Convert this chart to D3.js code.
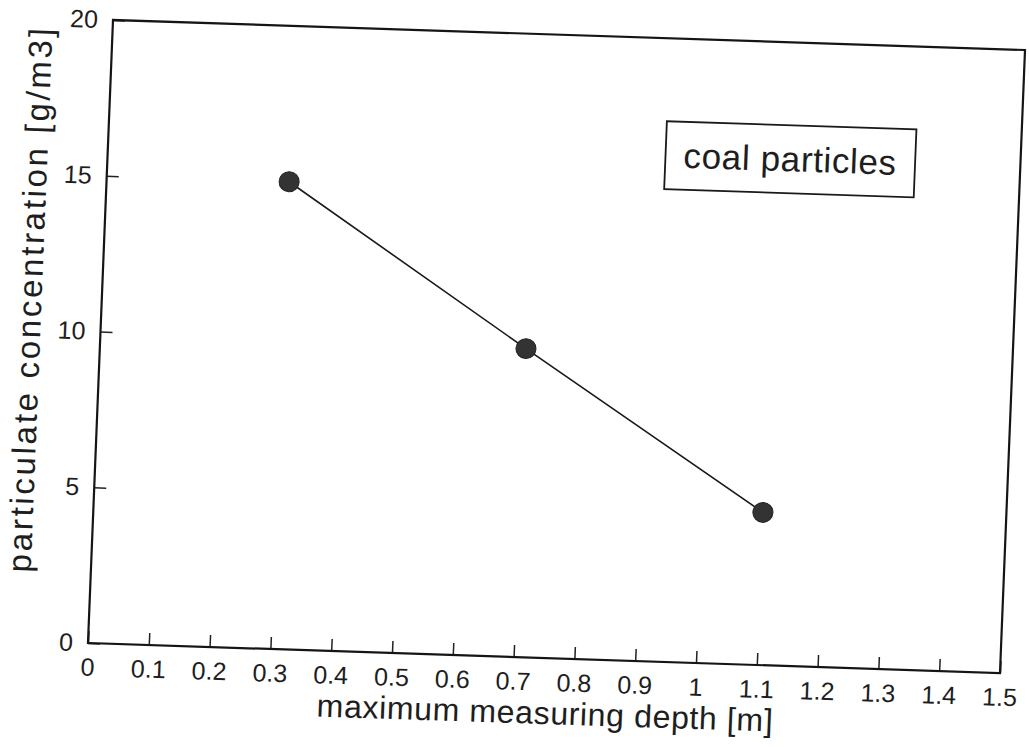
<!DOCTYPE html>
<html>
<head>
<meta charset="utf-8">
<script src="https://cdn.jsdelivr.net/npm/d3@7"></script>
<style>
  html, body { margin: 0; padding: 0; background: #fff; }
  svg { display: block; }
  text { font-family: "Liberation Sans", Arial, Helvetica, sans-serif; fill: #1e1e1e; }
</style>
</head>
<body>
<div id="chart"></div>
<script>
// data
const depth = [0.3, 0.7, 1.1];
const concentration = [15.0, 9.9, 4.9];
const xTickValues = [0, 0.1, 0.2, 0.3, 0.4, 0.5, 0.6, 0.7, 0.8, 0.9, 1, 1.1, 1.2, 1.3, 1.4, 1.5];
const xTickLabels = ["0", "0.1", "0.2", "0.3", "0.4", "0.5", "0.6", "0.7", "0.8", "0.9", "1", "1.1", "1.2", "1.3", "1.4", "1.5"];
const yTickValues = [0, 5, 10, 15, 20];
const yTickLabels = ["0", "5", "10", "15", "20"];
const seriesName = "coal particles";

const width = 1029;
const height = 747;
const plotW = 910;
const plotH = 624;

const svg = d3.select("#chart").append("svg")
  .attr("width", width)
  .attr("height", height);

// the scanned page is a little tilted, so the whole plot sits in a skewed frame
const g = svg.append("g")
  .attr("transform", "matrix(1.0022,0.033,-0.0401,0.9984,113,20)");

const x = d3.scaleLinear().domain([0, 1.5]).range([0, plotW]);
const y = d3.scaleLinear().domain([0, 20]).range([plotH, 0]);

// x axis, ticks pointing inwards
const xAxis = g.append("g")
  .attr("transform", "translate(0," + plotH + ")")
  .call(d3.axisBottom(x)
    .tickValues(xTickValues)
    .tickFormat((d, i) => xTickLabels[i])
    .tickSize(-12)
    .tickPadding(15));
xAxis.select(".domain").remove();
xAxis.selectAll(".tick line").attr("stroke", "#222").attr("stroke-width", 1.5);
xAxis.selectAll(".tick text")
  .attr("font-size", 25)
  .style("font-family", "'Liberation Sans', Arial, sans-serif")
  .attr("fill", "#1e1e1e");

// y axis
const yAxis = g.append("g")
  .call(d3.axisLeft(y)
    .tickValues(yTickValues)
    .tickFormat((d, i) => yTickLabels[i])
    .tickSize(-12)
    .tickPadding(15));
yAxis.select(".domain").remove();
yAxis.selectAll(".tick line").attr("stroke", "#222").attr("stroke-width", 1.5);
yAxis.selectAll(".tick text")
  .attr("font-size", 25)
  .style("font-family", "'Liberation Sans', Arial, sans-serif")
  .attr("fill", "#1e1e1e");

// plot frame
g.append("rect")
  .attr("x", 0).attr("y", 0)
  .attr("width", plotW).attr("height", plotH)
  .attr("fill", "none")
  .attr("stroke", "#151515")
  .attr("stroke-width", 2.2);

// series
const points = depth.map((d, i) => [d, concentration[i]]);
g.append("path")
  .datum(points)
  .attr("fill", "none")
  .attr("stroke", "#1a1a1a")
  .attr("stroke-width", 1.6)
  .attr("d", d3.line().x(d => x(d[0])).y(d => y(d[1])));

g.selectAll("circle.pt")
  .data(points)
  .enter()
  .append("circle")
  .attr("class", "pt")
  .attr("cx", d => x(d[0]))
  .attr("cy", d => y(d[1]))
  .attr("r", 10)
  .attr("fill", "#333")
  .attr("stroke", "#222")
  .attr("stroke-width", 1);

// legend box
g.append("rect")
  .attr("x", 556).attr("y", 83)
  .attr("width", 249).attr("height", 68)
  .attr("fill", "#fff")
  .attr("stroke", "#1a1a1a")
  .attr("stroke-width", 1.8);
g.append("text")
  .attr("x", 680).attr("y", 129)
  .attr("text-anchor", "middle")
  .attr("font-size", 35)
  .attr("textLength", 212)
  .attr("lengthAdjust", "spacing")
  .text(seriesName);

// axis titles
g.append("text")
  .attr("x", 458).attr("y", plotH + 66)
  .attr("text-anchor", "middle")
  .attr("font-size", 32)
  .attr("textLength", 455)
  .attr("lengthAdjust", "spacing")
  .text("maximum measuring depth [m]");

g.append("text")
  .attr("transform", "translate(-60,283) rotate(-90)")
  .attr("text-anchor", "middle")
  .attr("font-size", 33)
  .attr("textLength", 545)
  .attr("lengthAdjust", "spacing")
  .text("particulate concentration [g/m3]");
</script>
</body>
</html>
